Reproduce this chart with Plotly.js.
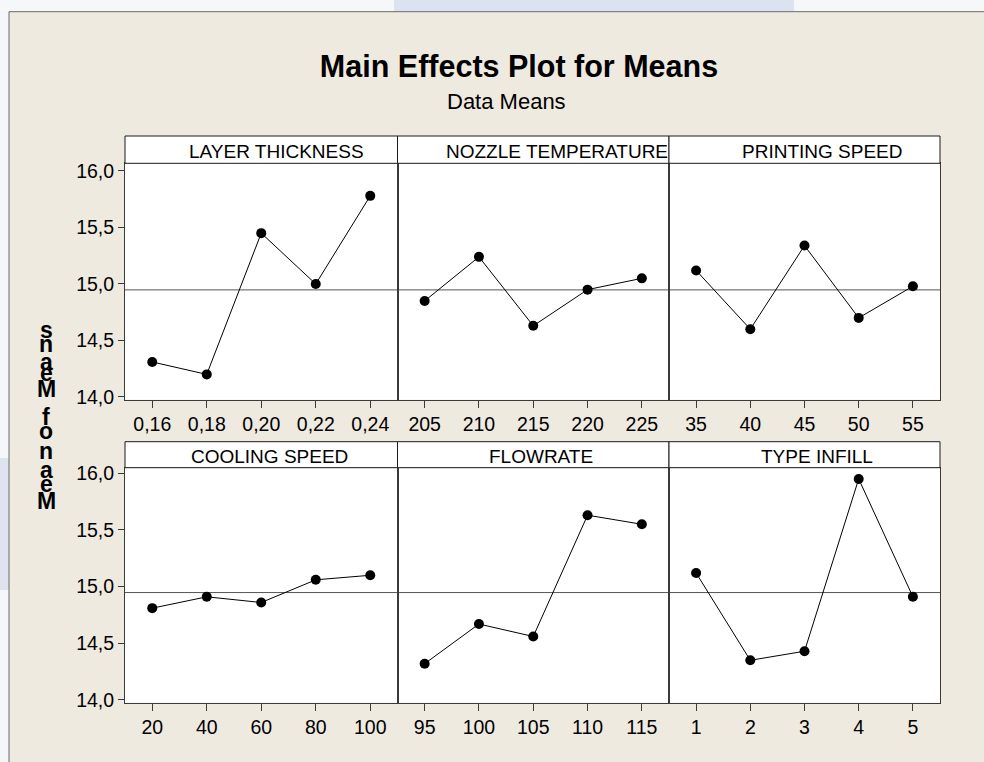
<!DOCTYPE html>
<html>
<head>
<meta charset="utf-8">
<script src="https://cdn.plot.ly/plotly-3.0.1.min.js"></script>
<style>
html,body{margin:0;padding:0;background:#ffffff;}
#chart{width:984px;height:762px;}
</style>
</head>
<body>
<div id="chart"></div>
<script>
// ---------- data ----------
const chartTitle = 'Main Effects Plot for Means';
const chartSubtitle = 'Data Means';
const yTitle = 'Mean of Means';
const factorNames = ['LAYER THICKNESS', 'NOZZLE TEMPERATURE', 'PRINTING SPEED',
                     'COOLING SPEED', 'FLOWRATE', 'TYPE INFILL'];

const layerThicknessLevels = ['0,16', '0,18', '0,20', '0,22', '0,24'];
const layerThicknessMeans  = [14.31, 14.20, 15.45, 15.00, 15.78];

const nozzleTemperatureLevels = ['205', '210', '215', '220', '225'];
const nozzleTemperatureMeans  = [14.85, 15.24, 14.63, 14.95, 15.05];

const printingSpeedLevels = ['35', '40', '45', '50', '55'];
const printingSpeedMeans  = [15.12, 14.60, 15.34, 14.70, 14.98];

const coolingSpeedLevels = ['20', '40', '60', '80', '100'];
const coolingSpeedMeans  = [14.81, 14.91, 14.86, 15.06, 15.10];

const flowrateLevels = ['95', '100', '105', '110', '115'];
const flowrateMeans  = [14.32, 14.67, 14.56, 15.63, 15.55];

const typeInfillLevels = ['1', '2', '3', '4', '5'];
const typeInfillMeans  = [15.12, 14.35, 14.43, 15.95, 14.91];

const yTickValues = [14.0, 14.5, 15.0, 15.5, 16.0];

// ---------- layout helpers (pixel geometry of the figure) ----------
const W = 984, H = 762;
const FONT = 'Liberation Sans, Arial, sans-serif';
const px = v => v / W;
const py = v => 1 - v / H;

const colEdges = [125, 397.5, 669, 940];
const rows = [
  {stripTop: 136, plotTop: 163.3, plotBottom: 399.7, yRange: [13.976, 16.068]},
  {stripTop: 441.7, plotTop: 467.7, plotBottom: 702.7, yRange: [13.976, 16.049]}
];
// horizontal offset of each strip label from its panel centre (px)
const stripLabelShift = [15, 24, 17, 8, 8, 12];

const levelsList = [layerThicknessLevels, nozzleTemperatureLevels, printingSpeedLevels,
                    coolingSpeedLevels, flowrateLevels, typeInfillLevels];
const meansList = [layerThicknessMeans, nozzleTemperatureMeans, printingSpeedMeans,
                   coolingSpeedMeans, flowrateMeans, typeInfillMeans];

const allMeans = [].concat(...meansList);
const grandMean = allMeans.reduce((a, b) => a + b, 0) / allMeans.length;

const traces = [];
const layout = {
  width: W, height: H,
  margin: {l: 0, r: 0, t: 0, b: 0},
  paper_bgcolor: '#EEEAE0',
  plot_bgcolor: '#ffffff',
  showlegend: false,
  separators: ',.',
  font: {family: FONT, color: '#000000'},
  title: {
    text: '<b>' + chartTitle + '</b>',
    font: {family: FONT, size: 30.5, color: '#000000'},
    x: px(519), xref: 'paper', xanchor: 'center',
    y: py(66), yref: 'container', yanchor: 'middle'
  },
  annotations: [],
  shapes: []
};

// subtitle
layout.annotations.push({
  text: chartSubtitle, showarrow: false, xref: 'paper', yref: 'paper',
  x: px(506.5), y: py(101), xanchor: 'center', yanchor: 'middle',
  font: {family: FONT, size: 22, color: '#000000'}
});

// outer page framing
layout.shapes.push(
  {type: 'rect', xref: 'paper', yref: 'paper', x0: 0, x1: 1, y0: py(11.7), y1: 1,
   fillcolor: '#F6F7F9', line: {width: 0}, layer: 'below'},
  {type: 'rect', xref: 'paper', yref: 'paper', x0: px(394), x1: px(794), y0: py(11.7), y1: 1,
   fillcolor: '#DCE3F0', line: {width: 0}, layer: 'below'},
  {type: 'rect', xref: 'paper', yref: 'paper', x0: 0, x1: px(9), y0: 0, y1: py(11.7),
   fillcolor: '#F4F6F9', line: {width: 0}, layer: 'below'},
  {type: 'rect', xref: 'paper', yref: 'paper', x0: 0, x1: px(9), y0: py(590), y1: py(458),
   fillcolor: '#DDE3EF', line: {width: 0}, layer: 'below'},
  {type: 'line', xref: 'paper', yref: 'paper', x0: px(9), x1: 1, y0: py(11.7), y1: py(11.7),
   line: {color: '#6a6a6a', width: 1}, layer: 'below'},
  {type: 'line', xref: 'paper', yref: 'paper', x0: px(9), x1: px(9), y0: 0, y1: py(11.7),
   line: {color: '#6a6a6a', width: 1}, layer: 'below'}
);

for (let i = 0; i < 6; i++) {
  const r = Math.floor(i / 3), c = i % 3;
  const row = rows[r];
  const n = i + 1;
  const xa = 'xaxis' + (n === 1 ? '' : n);
  const ya = 'yaxis' + (n === 1 ? '' : n);
  const xr = 'x' + (n === 1 ? '' : n);
  const yr = 'y' + (n === 1 ? '' : n);

  traces.push({
    type: 'scatter', mode: 'lines+markers',
    x: levelsList[i], y: meansList[i],
    xaxis: xr, yaxis: yr,
    line: {color: '#000000', width: 1},
    marker: {color: '#000000', size: 10},
    hoverinfo: 'x+y'
  });

  layout[xa] = {
    domain: [px(colEdges[c]), px(colEdges[c + 1])],
    anchor: yr,
    type: 'category',
    categoryorder: 'array', categoryarray: levelsList[i],
    range: [-0.5, 4.5],
    showgrid: false, zeroline: false,
    showline: true, mirror: true, linecolor: '#3a3a3a', linewidth: 1,
    ticks: 'outside', ticklen: 7, tickwidth: 1, tickcolor: '#3a3a3a',
    tickfont: {family: FONT, size: 19.5, color: '#000000'},
    fixedrange: true
  };
  layout[ya] = {
    domain: [py(row.plotBottom), py(row.plotTop)],
    anchor: xr,
    range: row.yRange,
    tickmode: 'array', tickvals: yTickValues, tickformat: '.1f',
    showgrid: false, zeroline: false,
    showline: true, mirror: true, linecolor: '#3a3a3a', linewidth: 1,
    ticks: c === 0 ? 'outside' : '', ticklen: 6, tickwidth: 1, tickcolor: '#3a3a3a',
    showticklabels: c === 0,
    tickfont: {family: FONT, size: 19.5, color: '#000000'},
    fixedrange: true
  };

  // grand mean reference line
  layout.shapes.push({
    type: 'line', xref: xr + ' domain', yref: yr,
    x0: 0, x1: 1, y0: grandMean, y1: grandMean,
    line: {color: '#555555', width: 1}, layer: 'below'
  });

  // strip header
  layout.shapes.push({
    type: 'rect', xref: 'paper', yref: 'paper',
    x0: px(colEdges[c]), x1: px(colEdges[c + 1]),
    y0: py(row.plotTop), y1: py(row.stripTop),
    fillcolor: '#ffffff', line: {color: '#1a1a1a', width: 1}, layer: 'above'
  });
  layout.annotations.push({
    text: factorNames[i], showarrow: false, xref: 'paper', yref: 'paper',
    x: px((colEdges[c] + colEdges[c + 1]) / 2), xshift: stripLabelShift[i],
    y: py((row.stripTop + row.plotTop) / 2 + 2),
    xanchor: 'center', yanchor: 'middle',
    font: {family: FONT, size: 19, color: '#000000'}
  });
}

// y-axis title: letters stacked upright, in the order shown in the reference
const yTitleLetters = yTitle.split('').reverse();
const yTitleLetterCenters = [330, 343.5, 362, 373, 389, null, 417, 431, null, 451.5, 470, 484, 501];
yTitleLetters.forEach((ch, k) => {
  if (ch === ' ' || yTitleLetterCenters[k] === null) return;
  layout.annotations.push({
    text: '<b>' + ch + '</b>', showarrow: false, xref: 'paper', yref: 'paper',
    x: px(46), y: py(yTitleLetterCenters[k]), xanchor: 'center', yanchor: 'middle',
    font: {family: FONT, size: 23, color: '#000000'}
  });
});

Plotly.newPlot('chart', traces, layout, {displayModeBar: false, staticPlot: true});
</script>
</body>
</html>
